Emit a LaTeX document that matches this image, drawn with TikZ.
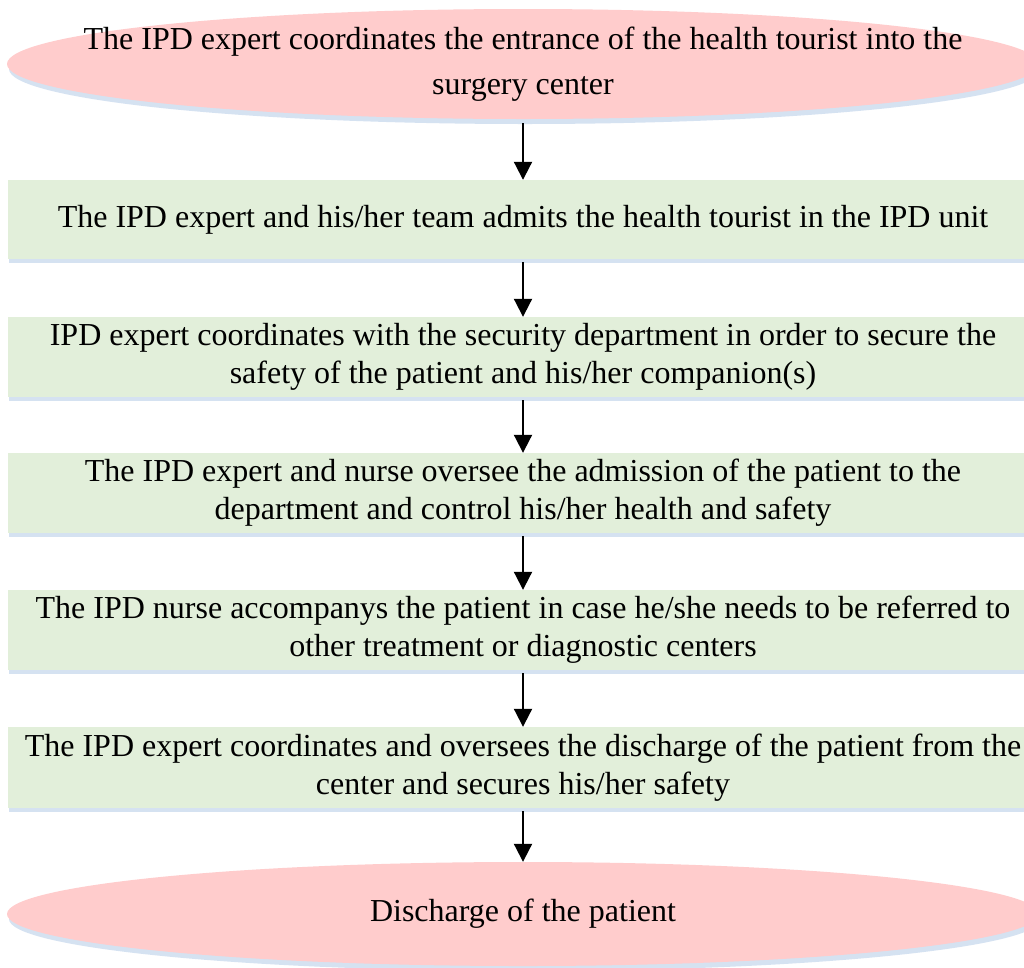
\documentclass[tikz,border=0pt]{standalone}
\usepackage{fontspec}
\setmainfont{Liberation Serif}
\usetikzlibrary{shapes.geometric,arrows.meta,shadows}
\definecolor{boxgreen}{RGB}{226,239,218}
\definecolor{ovalpink}{RGB}{255,204,204}
\definecolor{shadowblue}{RGB}{196,214,236}
\tikzset{
  stepbox/.style={rectangle, fill=boxgreen, minimum width=1031pt, inner sep=0pt,
    align=center, font=\fontsize{32}{38}\selectfont,
    drop shadow={shadow xshift=1pt, shadow yshift=-4pt, fill=shadowblue, opacity=0.7}},
  ovalshape/.style={ellipse, fill=ovalpink, minimum width=1032pt, inner sep=0pt,
    drop shadow={shadow xshift=2pt, shadow yshift=-5pt, fill=shadowblue, opacity=0.7}},
  ovaltext/.style={align=center, font=\fontsize{32}{45}\selectfont, inner sep=0pt},
  arr/.style={-{Triangle[length=18pt,width=18pt]}, line width=2pt, black}
}
\begin{document}
\begin{tikzpicture}[x=1pt,y=-1pt]
\useasboundingbox (0,0) rectangle (1024,967);
\clip (0,0) rectangle (1024,967);
\fill[white] (0,0) rectangle (1024,967);

\node[ovalshape, minimum height=110pt] (e1) at (523,64) {};
\node[ovaltext] (e1t) at (e1.center) {The IPD expert coordinates the entrance of the health tourist into the\\surgery center};

\node[stepbox, minimum height=79pt] (b1) at (523,219.5) {The IPD expert and his/her team admits the health tourist in the IPD unit};
\node[stepbox, minimum height=80pt] (b2) at (523,357) {IPD expert coordinates with the security department in order to secure the\\safety of the patient and his/her companion(s)};
\node[stepbox, minimum height=80pt] (b3) at (523,493) {The IPD expert and nurse oversee the admission of the patient to the\\department and control his/her health and safety};
\node[stepbox, minimum height=80pt] (b4) at (523,630) {The IPD nurse accompanys the patient in case he/she needs to be referred to\\other treatment or diagnostic centers};
\node[stepbox, minimum height=81pt] (b5) at (523,767.5) {The IPD expert coordinates and oversees the discharge of the patient from the\\center and secures his/her safety};

\node[ovalshape, minimum height=104pt] (e2) at (523,914) {};
\node[ovaltext] (e2t) at (e2.center) {Discharge of the patient};

\draw[arr] ([yshift=-4pt]e1.south) -- (b1.north);
\draw[arr] ([yshift=-3pt]b1.south) -- (b2.north);
\draw[arr] ([yshift=-3pt]b2.south) -- (b3.north);
\draw[arr] ([yshift=-3pt]b3.south) -- (b4.north);
\draw[arr] ([yshift=-3pt]b4.south) -- (b5.north);
\draw[arr] ([yshift=-3pt]b5.south) -- (e2.north);
\end{tikzpicture}
\end{document}
